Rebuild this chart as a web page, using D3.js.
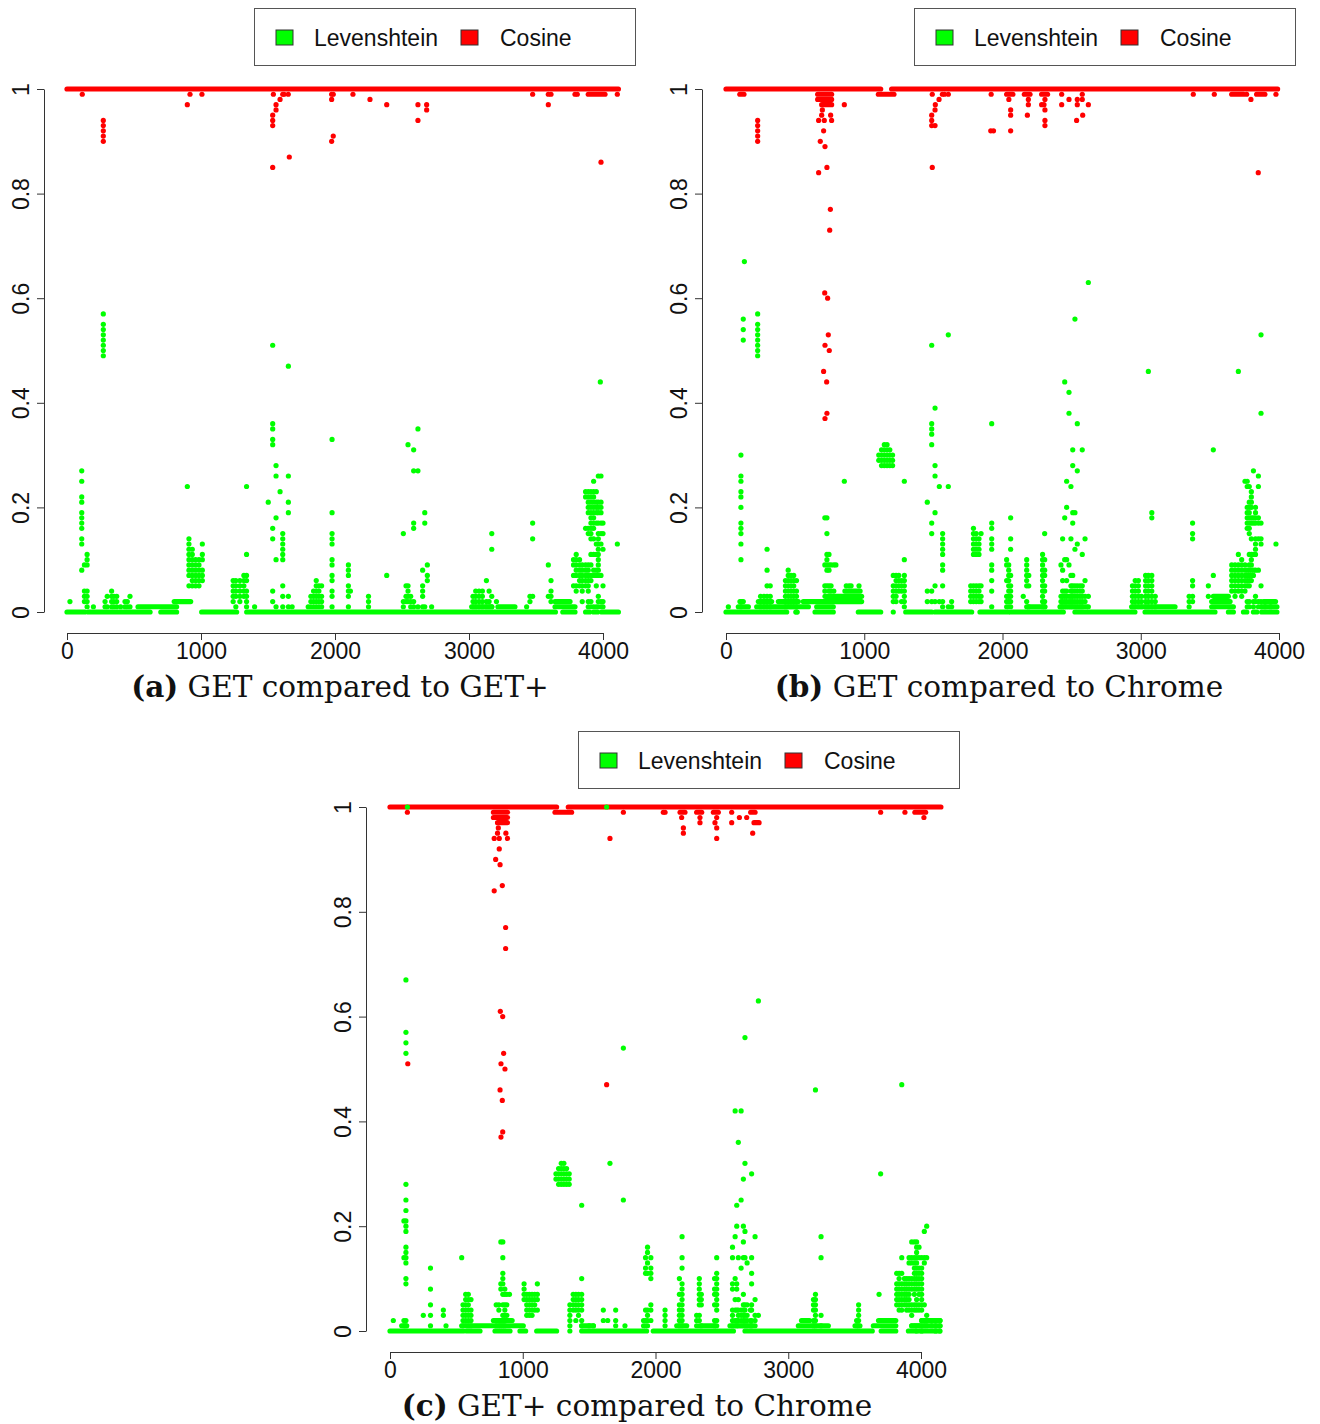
<!DOCTYPE html>
<html>
<head>
<meta charset="utf-8">
<script src="https://cdn.jsdelivr.net/npm/d3@7"></script>
<style>
  body { margin: 0; background: #fff; }
</style>
</head>
<body>
<svg id="fig" width="1320" height="1424"></svg>
<script>
// ---- data (x = request index, y values in hundredths of similarity) ----
const xTicks = [0, 1000, 2000, 3000, 4000];
const yTicks = [0, 0.2, 0.4, 0.6, 0.8, 1];
const yTickLabels = ["0", "0.2", "0.4", "0.6", "0.8", "1"];
const seriesNames = ["Levenshtein", "Cosine"];
const captionTags = ["(a)", "(b)", "(c)"];
const captionTexts = ["GET compared to GET+", "GET compared to Chrome", "GET+ compared to Chrome"];

// runs of consecutive points at one level: [y, xFrom, xTo]
// columns of single points: [x, [y, y, ...]]

// (a) GET vs GET+
const levRunsA = [[0, 0, 134], [0, 159, 620], [1, 530, 818], [0, 700, 818], [2, 800, 923], [0, 1005, 1266],
  [0, 1341, 3645], [1, 3020, 3170], [1, 3216, 3343], [2, 3642, 3754], [1, 3642, 3791], [0, 3700, 3791],
  [0, 3870, 3900], [0, 3930, 3960], [0, 3990, 4115]];
const levColsA = [[22, [2]], [110, [27, 25, 22, 21, 19, 18, 17, 16, 14, 13, 8]], [130, [9, 4, 3, 2]],
  [150, [11, 10, 9, 4, 3, 2, 1]], [197, [1]], [271, [57, 55, 54, 53, 52, 51, 50, 49]],
  [284, [2, 1]], [300, [3, 1]], [333, [4, 3, 2, 1]], [350, [3, 2, 1]], [371, [3, 2, 1]], [400, [1]],
  [433, [2, 1]], [450, [2, 1]], [470, [3, 1]], [898, [24]],
  [910, [14, 13, 12, 11, 10, 9, 8, 7, 5]], [935, [12, 11, 10, 9, 8, 7, 6, 5]], [960, [10, 9, 8, 7, 6, 5]],
  [985, [10, 9, 8, 7, 6, 5]], [1010, [13, 11, 10, 8, 7, 6]],
  [1240, [6, 5, 4, 3, 2]], [1260, [6, 5, 4, 3, 1]], [1290, [6, 5, 4, 3, 2]], [1320, [7, 6, 5, 4, 3]],
  [1340, [24, 11, 7, 6, 4, 3, 2, 1]], [1400, [1]],
  [1502, [21]], [1535, [51, 36, 35, 33, 32, 16, 14, 4, 2]], [1560, [28, 26, 18, 10, 1]], [1590, [23]],
  [1610, [15, 14, 13, 12, 11, 10, 5, 3, 1]], [1652, [47, 26, 21, 19, 3, 1]], [1680, [1]],
  [1800, [1]], [1820, [3, 2, 1]], [1840, [4, 3, 2, 1]], [1860, [6, 5, 4, 3, 2, 1]], [1880, [5, 4, 3, 2, 1]],
  [1900, [5, 3, 2, 1]], [1978, [33, 19, 15, 14, 13, 10, 9, 7, 6, 4, 3, 1]],
  [2100, [9, 8, 7, 5, 4, 3, 1]], [2115, [4]], [2250, [3, 2, 1]], [2386, [7]],
  [2510, [15, 2, 1]], [2530, [5, 3, 2]], [2545, [32, 5, 4, 3, 2]], [2565, [3, 2, 1]],
  [2587, [31, 27, 17, 16, 2, 1]], [2619, [35, 27, 1]],
  [2654, [8, 5, 4, 3, 1]], [2670, [19, 17, 1]], [2689, [9, 7, 6]], [2721, [1]],
  [3030, [3, 2, 1]], [3050, [4, 3, 2, 1]], [3075, [4, 3, 2, 1]], [3100, [4, 3, 2, 1]], [3130, [6, 2, 1]],
  [3150, [4, 2, 1]], [3170, [15, 12, 3, 1]], [3205, [2]],
  [3430, [1]], [3455, [3, 2]], [3475, [17, 14, 3]], [3592, [9, 3]], [3612, [6, 4, 3, 2]],
  [3780, [10, 9, 7, 5]], [3800, [11, 10, 9, 8, 7, 5, 4]], [3825, [10, 9, 8, 7, 6, 5]],
  [3845, [9, 8, 7, 6, 5, 4, 2]], [3870, [23, 22, 16, 9, 8, 7, 6, 5]],
  [3890, [23, 22, 21, 20, 19, 16, 15, 9, 8, 7, 6, 5, 4, 2, 1]],
  [3910, [23, 22, 21, 20, 19, 18, 17, 16, 15, 14, 11, 9, 7, 6, 2, 1]],
  [3930, [25, 23, 22, 21, 20, 19, 18, 17, 16, 14, 11, 8, 7, 1]],
  [3950, [23, 21, 20, 19, 17, 13, 11, 8, 7, 5, 1]],
  [3965, [26, 21, 20, 19, 17, 15, 14, 13, 12, 11, 10, 9, 8, 7, 3, 2, 1]], [3980, [44]],
  [3985, [26, 21, 20, 19, 17, 15, 13, 7, 2, 1]], [4000, [17, 15, 12, 5, 2, 1]], [4107, [13]]];
const cosRunsA = [[100, 0, 4115], [99, 3890, 4015]];
const cosColsA = [[114, [99]], [271, [94, 93, 92, 91, 90]], [898, [97]], [918, [99]], [1007, [99]],
  [1535, [95, 94, 93, 85]], [1540, [99]], [1560, [97, 96]], [1590, [98]], [1610, [99]], [1620, [99]],
  [1651, [99]], [1659, [87]], [1975, [99, 98, 90]], [1987, [99, 91]],
  [2134, [99]], [2261, [98]], [2386, [97]], [2619, [97, 94]], [2684, [97, 96]],
  [3475, [99]], [3592, [99, 97]], [3612, [99]], [3791, [99]], [3808, [99]], [3985, [86]], [4107, [99]]];

// (b) GET vs Chrome
const levRunsB = [[0, 0, 439], [0, 505, 515], [0, 644, 776], [0, 957, 1119], [0, 1300, 1488], [0, 1512, 1777],
  [0, 1837, 2042], [0, 2060, 2440], [0, 2524, 2958], [0, 3031, 3537], [0, 3634, 3670], [0, 3743, 3767],
  [0, 3815, 3840], [0, 3875, 3985],
  [1, 89, 162], [1, 222, 596], [1, 656, 776], [1, 2187, 2307], [1, 2416, 2609], [1, 2934, 3248],
  [1, 3513, 3670], [1, 3875, 3985],
  [2, 101, 125], [2, 234, 330], [2, 379, 523], [2, 559, 981], [2, 3513, 3646], [2, 3890, 3975],
  [3, 716, 981], [3, 3525, 3634], [4, 860, 970]];
const levColsB = [[17, [1]], [108, [30, 26, 25, 23, 22, 20, 17, 16, 15, 13, 10, 2, 1]], [125, [56, 54, 52]],
  [133, [67]], [229, [57, 55, 54, 53, 52, 51, 50, 49]],
  [250, [3, 2, 1]], [275, [3, 2, 1]], [297, [12, 8, 5, 3, 2, 1]], [320, [5, 3, 2, 1]],
  [430, [6, 5, 4, 3, 2, 1]], [450, [8, 7, 6, 5, 4, 3, 2, 1]], [470, [7, 6, 5, 4, 3, 2, 1]],
  [490, [7, 6, 5, 4, 3, 2, 1]], [510, [6, 4, 3, 2, 1, 0]],
  [715, [18, 9, 5, 4]], [730, [18, 15, 11, 10, 9, 8, 5]], [745, [11, 9, 8, 5, 4]], [760, [9, 5, 4]],
  [780, [9, 4]], [795, [9]], [856, [25]], [870, [5]], [890, [5]], [905, [5]], [962, [5]],
  [1105, [30, 29]], [1125, [31, 30, 29, 28]], [1145, [32, 31, 30, 29, 28]], [1165, [32, 31, 30, 29, 28]],
  [1185, [31, 30, 29, 28]], [1205, [30, 29, 28]],
  [1210, [7, 5, 4, 3, 2, 0]], [1230, [7, 6, 5, 4, 3, 2]], [1250, [7, 6, 5, 4]], [1270, [6, 5, 4, 2]],
  [1290, [25, 10, 7, 6, 5, 4, 3, 2, 1]],
  [1456, [21, 4, 2]], [1488, [51, 36, 35, 34, 32, 17, 15, 4, 2]], [1512, [39, 28, 26, 19, 5, 2]],
  [1543, [24, 2]], [1567, [15, 14, 13, 12, 11, 9, 8, 5, 2, 1]], [1608, [53, 24, 1]], [1632, [2, 1]],
  [1770, [5, 4, 3, 2]], [1790, [16, 15, 14, 13, 12, 11, 5, 4, 3, 2]], [1810, [15, 14, 13, 12, 11, 5, 4, 3, 2]],
  [1830, [14, 13, 12, 11, 5, 4, 3, 2]], [1845, [15, 5, 3, 2]],
  [1922, [36, 17, 16, 14, 13, 12, 9, 8, 6, 4, 1]],
  [2030, [10, 9, 6, 3, 2, 1]], [2045, [9, 8, 7, 6, 5, 4, 3, 2, 1]], [2059, [18, 14, 12, 7, 5, 4, 3, 2, 1]],
  [2150, [3]], [2175, [10, 9, 8, 7, 6, 5, 2, 1]], [2190, [7, 5, 1]],
  [2290, [11, 10, 9, 8, 7, 6, 5, 4, 3, 2, 1]], [2305, [15, 10, 8, 7, 5, 4, 2, 1]],
  [2423, [9, 3, 2, 1]], [2435, [14, 8, 6, 4, 3, 2, 1]], [2450, [44, 18, 10, 4, 3, 2, 1]],
  [2464, [25, 20, 10, 6, 4, 3, 2, 1]], [2481, [42, 38, 9, 3, 2, 1]], [2495, [24, 14, 7, 5, 4, 3, 2, 1]],
  [2508, [31, 28, 19, 17, 7, 5, 4, 3, 2, 1]], [2524, [56, 19, 12, 5, 4, 3, 2, 1]],
  [2541, [36, 27, 13, 5, 4, 3, 2, 1]], [2560, [5, 4, 3, 2, 1]], [2577, [31, 11, 5, 4, 3, 2, 1]],
  [2597, [14, 6, 3, 2]], [2621, [63, 3, 1]],
  [2940, [5, 4, 3, 2, 1]], [2960, [6, 5, 4, 3, 2, 1]], [2983, [6, 5, 4, 3, 2, 1]], [3005, [3, 2, 1]],
  [3035, [7, 6, 5, 4, 3, 2, 1]], [3055, [46, 7, 6, 5, 4, 3, 2, 1]], [3080, [19, 18, 7, 6, 5, 4, 3, 2, 1]],
  [3105, [3, 2, 1]], [3350, [3, 2, 1]], [3375, [17, 15, 14, 6, 5, 3, 2]],
  [3489, [5, 3]], [3525, [31, 7]],
  [3658, [9, 8, 7, 6, 5, 4]], [3682, [9, 8, 7, 6, 5, 4, 3]], [3706, [46, 11, 9, 8, 7, 6, 5, 4]],
  [3730, [10, 9, 8, 7, 6, 5, 4, 3]], [3754, [25, 9, 8, 7, 6, 5, 4]],
  [3770, [25, 24, 20, 19, 18, 17, 16, 8, 7, 6, 5, 2, 1]],
  [3785, [24, 21, 20, 19, 18, 17, 16, 15, 11, 9, 8, 7, 6, 5, 2, 1]],
  [3800, [23, 22, 21, 20, 18, 17, 14, 11, 10, 9, 8, 7, 6]], [3815, [27, 18, 17, 11, 8, 7, 2, 1]],
  [3830, [20, 19, 18, 17, 14, 13, 12, 11, 8, 3, 2]], [3851, [26, 24, 18, 17, 14, 8, 2, 1]],
  [3870, [53, 38, 17, 14, 13, 5, 2, 1]], [3899, [2, 1]], [3940, [2, 1]], [3978, [13]]];
const cosRunsB = [[100, 0, 1119], [99, 1102, 1215], [100, 1198, 3990], [99, 100, 130], [99, 663, 764],
  [98, 663, 764], [97, 692, 764], [99, 2030, 2075], [99, 2158, 2199], [99, 2283, 2326], [99, 3658, 3743],
  [99, 3838, 3898]];
const cosColsB = [[229, [94, 93, 92, 91, 90]],
  [670, [94, 84]], [682, [90]], [692, [95]], [697, [96]], [706, [92, 46]], [711, [94]], [714, [61]],
  [716, [89, 51, 37]], [728, [44]], [730, [85, 38]], [735, [60]], [740, [53]], [747, [50]], [750, [73]],
  [755, [77]], [757, [95]], [764, [94]], [856, [97]],
  [1488, [95, 94, 93]], [1492, [99, 85]], [1512, [96, 93]], [1514, [97]], [1541, [98]], [1565, [99]],
  [1580, [99]], [1608, [99]], [1918, [99]], [1915, [92]], [1935, [92]],
  [2046, [98]], [2059, [96, 95, 92]], [2180, [95]], [2187, [98, 97]], [2283, [97]], [2300, [97]],
  [2307, [98, 96, 94, 93]], [2428, [99, 97]], [2481, [98]], [2536, [94]], [2541, [98, 97]],
  [2577, [99, 98]], [2580, [95]], [2621, [97]],
  [3380, [99]], [3532, [99]], [3766, [99]], [3797, [98]], [3850, [84]], [3978, [99]]];

// (c) GET+ vs Chrome
const levRunsC = [[0, 0, 552], [0, 578, 678], [0, 791, 904], [0, 979, 1022], [0, 1105, 1255],
  [0, 1444, 1933], [0, 1983, 2587], [0, 2674, 3633], [0, 3700, 3810], [0, 3905, 3960], [0, 3985, 4140],
  [1, 88, 126], [1, 540, 1004], [1, 1444, 1532], [1, 2160, 2235], [1, 2348, 2448], [1, 2561, 2750],
  [1, 3076, 3302], [1, 3503, 3540], [1, 3641, 3810], [1, 3930, 4143],
  [2, 779, 920], [2, 3100, 3160], [2, 3680, 3810], [2, 4005, 4143]];
const levColsC = [[25, [2]], [105, [21, 14, 2, 1]],
  [120, [67, 57, 55, 53, 28, 25, 23, 21, 20, 19, 16, 15, 14, 13, 10, 9, 2, 1]], [131, [100]],
  [251, [3]], [305, [12, 8, 5, 3, 1]], [402, [4, 3]], [422, [1]],
  [540, [14]], [550, [5, 4, 3, 2, 1]], [570, [7, 6, 5, 4, 3, 2, 1]], [590, [7, 6, 5, 4, 3, 2, 1]],
  [610, [6, 4, 3, 2, 1]],
  [800, [5, 2, 1]], [820, [5, 4, 2, 1]], [835, [17, 9, 8, 2, 1]], [850, [17, 14, 11, 10, 9, 7, 5, 3, 2, 1]],
  [865, [8, 7, 5, 4, 3, 2, 1]], [880, [7, 5, 3, 2]], [900, [7, 2]],
  [1010, [9, 8, 7, 6]], [1030, [7, 6, 5, 4, 3]], [1050, [7, 6, 5, 4, 3]], [1070, [7, 6, 5, 4, 3]],
  [1090, [7, 6, 5, 4]], [1110, [9, 7, 6, 4]],
  [1250, [30, 29]], [1270, [31, 30, 29, 28]], [1290, [32, 31, 30, 29, 28]], [1310, [32, 31, 30, 29, 28]],
  [1330, [31, 30, 29, 28]], [1350, [30, 29, 28]],
  [1355, [5, 4, 3, 2, 1, 0]], [1380, [7, 6, 5, 4]], [1400, [7, 6, 5, 4, 2]], [1420, [7, 6, 5, 4, 3]],
  [1444, [24, 10, 7, 6, 5, 4, 2, 1]],
  [1500, [1]], [1532, [1]], [1607, [4, 2]], [1632, [100]], [1640, [2]], [1657, [32]], [1700, [4, 2, 1]],
  [1758, [54, 25]], [1770, [1]],
  [1910, [2, 1]], [1925, [14, 12, 11, 4, 2, 1]], [1940, [16, 15, 13, 11, 4, 3, 2, 1]],
  [1965, [14, 12, 11, 10, 5, 4, 2]], [2072, [4, 3, 2, 1]],
  [2180, [10, 7, 5, 4, 3, 2, 1]], [2200, [18, 14, 12, 9, 8, 7, 6, 5, 4, 3, 2, 1]],
  [2310, [3, 2, 1]], [2330, [10, 9, 8, 7, 6, 5, 3, 2, 1]], [2345, [7, 6, 5, 1]],
  [2445, [10, 8, 7, 5, 2, 1]], [2461, [14, 11, 10, 9, 8, 7, 6, 5, 4, 2, 1]],
  [2580, [16, 14, 9, 8, 4, 3, 2, 1]], [2600, [42, 18, 10, 6, 4, 2, 1]], [2612, [24, 20, 9, 8, 4, 2, 1]],
  [2624, [36, 14, 6, 4, 3, 2, 1]], [2645, [42, 25, 12, 4, 3, 2, 1]],
  [2662, [29, 20, 17, 14, 7, 5, 4, 3, 2, 1]], [2674, [56, 32, 19, 14, 5, 4, 3, 2, 1]],
  [2690, [13, 5, 3, 2, 1]], [2715, [4, 2, 1]], [2724, [30, 14, 11, 9, 5, 4, 2, 1]], [2750, [18, 6, 3, 2]],
  [2775, [63, 3]],
  [3190, [6, 5, 4, 2, 1]], [3205, [46, 7, 6, 5, 4, 3, 2, 1]], [3247, [18, 14, 3, 1]],
  [3515, [2, 1]], [3530, [5, 4, 3, 2, 1]], [3684, [7]], [3696, [30]],
  [3817, [11, 9, 8, 7, 6, 5]], [3835, [11, 10, 9, 8, 7, 6, 5, 4]], [3855, [47, 14, 11, 9, 8, 7, 6, 5, 4]],
  [3875, [10, 9, 8, 7, 6, 5]], [3892, [10, 9, 8, 7, 6, 5, 4]], [3910, [14, 13, 10, 9, 8, 7, 6, 5, 4]],
  [3930, [17, 14, 13, 10, 9, 8, 5, 4, 3, 1]], [3950, [17, 14, 13, 12, 11, 10, 9, 8, 7, 5, 4, 1]],
  [3967, [17, 16, 15, 14, 13, 12, 11, 10, 9, 8, 6, 5, 4, 1, 0]],
  [3985, [16, 14, 12, 11, 10, 9, 8, 7, 5, 4, 1]], [4005, [14, 12, 11, 10, 9, 8, 7, 6, 5, 4, 2, 1, 0]],
  [4025, [19, 14, 13, 5, 2, 1]], [4043, [20, 14, 3, 2, 1]], [4080, [2, 1]], [4110, [2, 1, 0]],
  [4143, [2, 1, 0]]];
const cosRunsC = [[100, 0, 1255], [99, 1243, 1368], [100, 1343, 4150], [99, 779, 885], [98, 779, 885],
  [97, 810, 885], [99, 2185, 2222], [99, 2310, 2348], [99, 2436, 2473], [99, 2717, 2750], [97, 2742, 2780],
  [99, 3954, 4035]];
const cosColsC = [[131, [99]], [134, [51]],
  [785, [94, 84]], [796, [90]], [810, [95]], [816, [96]], [823, [94, 92]], [829, [89, 46]], [831, [61]],
  [836, [51, 37]], [846, [85, 44]], [849, [60, 38]], [856, [53]], [866, [50]], [871, [77, 73]],
  [873, [95]], [885, [94]],
  [1632, [47]], [1657, [94]], [1758, [99]], [2059, [99]], [2072, [99]],
  [2197, [98]], [2210, [96, 95]], [2335, [98, 97]], [2448, [97]], [2461, [98, 96, 94]],
  [2574, [99, 97]], [2632, [98]], [2687, [98]], [2732, [95]],
  [3696, [99]], [3879, [99]], [4022, [98]]];

// ---- layout ----
const GREEN = "#00ff00", RED = "#ff0000";
const sans = "'Liberation Sans', Arial, Helvetica, sans-serif";
const serif = "'DejaVu Serif', 'Liberation Serif', serif";

const panels = [
  { lev: [levRunsA, levColsA], cos: [cosRunsA, cosColsA], xr: [67, 603], yr: [612, 89],
    axisX: 44, axisY: 633, legend: [254, 8], capX: 340, capY: 697 },
  { lev: [levRunsB, levColsB], cos: [cosRunsB, cosColsB], xr: [726, 1279], yr: [612, 89],
    axisX: 702, axisY: 633, legend: [914, 8], capX: 999, capY: 697 },
  { lev: [levRunsC, levColsC], cos: [cosRunsC, cosColsC], xr: [390, 921], yr: [1331, 807],
    axisX: 366, axisY: 1352, legend: [578, 731], capX: 637, capY: 1416 }
];

const svg = d3.select("#fig");

panels.forEach((p, i) => {
  const x = d3.scaleLinear().domain([0, 4000]).range(p.xr);
  const y = d3.scaleLinear().domain([0, 1]).range(p.yr);
  const g = svg.append("g");

  // cosine underneath, levenshtein drawn on top
  [[p.cos, RED], [p.lev, GREEN]].forEach(([[runs, cols], color]) => {
    g.append("g").selectAll("line")
      .data(runs)
      .join("line")
      .attr("x1", d => x(d[1]))
      .attr("x2", d => x(d[2]))
      .attr("y1", d => y(d[0] / 100))
      .attr("y2", d => y(d[0] / 100))
      .attr("stroke", color)
      .attr("stroke-width", 5.2)
      .attr("stroke-linecap", "round");

    const pts = cols.flatMap(([xv, ys]) => ys.map(v => [xv, v]));
    g.append("g").selectAll("circle")
      .data(pts)
      .join("circle")
      .attr("cx", d => x(d[0]))
      .attr("cy", d => y(d[1] / 100))
      .attr("r", 2.6)
      .attr("fill", color);
  });

  // x axis
  const gx = g.append("g")
    .attr("transform", `translate(0,${p.axisY})`)
    .call(d3.axisBottom(x).tickValues(xTicks).tickFormat(d3.format("d"))
      .tickSize(7).tickPadding(3).tickSizeOuter(0));

  // y axis, labels parallel to the axis like R
  const gy = g.append("g")
    .attr("transform", `translate(${p.axisX},0)`)
    .call(d3.axisLeft(y).tickValues(yTicks).tickFormat((d, k) => yTickLabels[k])
      .tickSize(7).tickSizeOuter(0));
  gy.selectAll(".tick text")
    .attr("x", 0)
    .attr("dy", null)
    .attr("text-anchor", "middle")
    .attr("transform", "translate(-15,0) rotate(-90)");

  [gx, gy].forEach(a => {
    a.attr("font-family", sans).attr("font-size", 23);
    a.selectAll("path, line").attr("stroke", "#333");
    a.selectAll("text").attr("fill", "#111");
  });

  // legend
  const [lx, ly] = p.legend;
  const lg = g.append("g").attr("transform", `translate(${lx},${ly})`);
  lg.append("rect")
    .attr("x", 0.5).attr("y", 0.5)
    .attr("width", 381).attr("height", 57)
    .attr("fill", "#fff").attr("stroke", "#555");
  [[GREEN, 22, 60], [RED, 207, 246]].forEach(([c, sx, tx], k) => {
    lg.append("rect")
      .attr("x", sx).attr("y", 22)
      .attr("width", 17).attr("height", 15)
      .attr("fill", c).attr("stroke", "#333").attr("stroke-width", 1);
    lg.append("text")
      .attr("x", tx).attr("y", 38)
      .attr("font-family", sans).attr("font-size", 23)
      .attr("fill", "#111")
      .text(seriesNames[k]);
  });

  // caption
  const cap = g.append("text")
    .attr("x", p.capX).attr("y", p.capY)
    .attr("text-anchor", "middle")
    .attr("font-family", serif).attr("font-size", 29.5)
    .attr("fill", "#111");
  cap.append("tspan").attr("font-weight", "bold").text(captionTags[i]);
  cap.append("tspan").text(" " + captionTexts[i]);
});
</script>
</body>
</html>
